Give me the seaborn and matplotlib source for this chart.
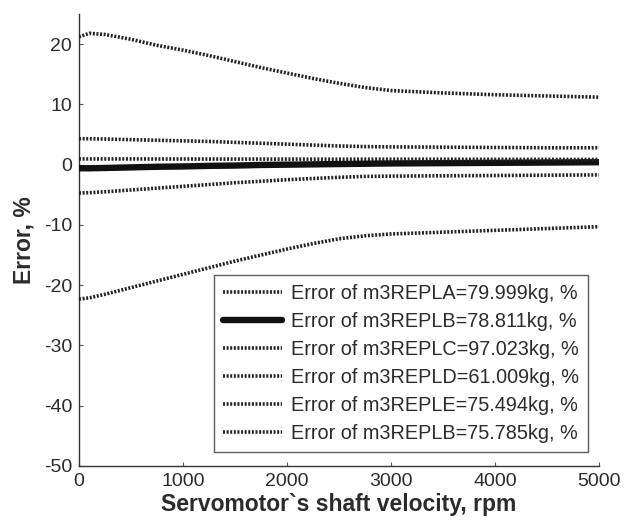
import matplotlib
matplotlib.use("Agg")
import matplotlib.pyplot as plt
import seaborn as sns
import pandas as pd

rpm = [0, 100, 250, 500, 750, 1000, 1250, 1500, 1750, 2000, 2250, 2500, 2750, 3000, 3500, 4000, 4500, 5000]

err_a = [21.2, 21.8, 21.6, 20.8, 19.8, 19.0, 18.1, 17.1, 16.1, 15.2, 14.3, 13.5, 12.8, 12.3, 11.9, 11.6, 11.4, 11.2]
err_b = [-0.6, -0.6, -0.55, -0.45, -0.35, -0.3, -0.2, -0.15, -0.05, 0.0, 0.05, 0.1, 0.15, 0.2, 0.25, 0.3, 0.35, 0.4]
err_c = [4.3, 4.3, 4.25, 4.15, 4.05, 3.95, 3.85, 3.7, 3.55, 3.4, 3.25, 3.1, 3.0, 2.95, 2.9, 2.85, 2.8, 2.8]
err_d = [-22.3, -22.1, -21.5, -20.4, -19.3, -18.2, -17.1, -16.0, -15.0, -14.0, -13.1, -12.3, -11.8, -11.5, -11.2, -10.9, -10.6, -10.3]
err_e = [0.95, 0.95, 0.95, 0.95, 0.94, 0.94, 0.93, 0.93, 0.92, 0.92, 0.91, 0.9, 0.9, 0.9, 0.89, 0.88, 0.87, 0.86]
err_f = [-4.7, -4.65, -4.5, -4.2, -3.9, -3.6, -3.3, -3.0, -2.75, -2.5, -2.3, -2.1, -1.95, -1.9, -1.85, -1.8, -1.75, -1.7]

labels = [
    "Error of m3REPLA=79.999kg, %",
    "Error of m3REPLB=78.811kg, %",
    "Error of m3REPLC=97.023kg, %",
    "Error of m3REPLD=61.009kg, %",
    "Error of m3REPLE=75.494kg, %",
    "Error of m3REPLB=75.785kg, %",
]
series = [err_a, err_b, err_c, err_d, err_e, err_f]

x_ticks = [0, 1000, 2000, 3000, 4000, 5000]
y_ticks = [-50, -40, -30, -20, -10, 0, 10, 20]

sns.set_style("ticks")
plt.rcParams["font.family"] = ["Liberation Sans", "DejaVu Sans"]
plt.rcParams["axes.unicode_minus"] = False
txt = "#2b2b2b"

fig = plt.figure(figsize=(6.3, 5.26), dpi=100)
ax = fig.add_axes([0.1254, 0.1141, 0.8254, 0.8593])

for i, (lab, vals) in enumerate(zip(labels, series)):
    df = pd.DataFrame({"rpm": rpm, "err": vals})
    if i == 1:
        sns.lineplot(data=df, x="rpm", y="err", ax=ax, color="#111111",
                     linewidth=4.6, label=lab, zorder=3)
    else:
        sns.lineplot(data=df, x="rpm", y="err", ax=ax, color="#222222",
                     linewidth=2.6, linestyle=(0, (0.55, 0.45)), label=lab, zorder=4)

ax.set_xlim(0, 5000)
ax.set_ylim(-50, 25)
ax.set_xticks(x_ticks)
ax.set_yticks(y_ticks)
ax.tick_params(direction="in", length=3, width=0.8, colors="#555555",
               labelsize=14, labelcolor=txt, pad=5)
for s in ["top", "right"]:
    ax.spines[s].set_visible(False)
for s in ["left", "bottom"]:
    ax.spines[s].set_color("#333333")
    ax.spines[s].set_linewidth(1.0)

ax.set_xlabel("Servomotor`s shaft velocity, rpm", fontsize=16.5, fontweight="bold", color=txt, labelpad=2)
ax.set_ylabel("Error, %", fontsize=16.5, fontweight="bold", color=txt, labelpad=6)

leg = ax.legend(loc="lower right", bbox_to_anchor=(0.979, 0.031), borderaxespad=0,
                fontsize=14.3, frameon=True, fancybox=False, edgecolor="#333333",
                handlelength=3.0, handletextpad=0.45, labelspacing=0.45,
                borderpad=0.45)
leg.get_frame().set_linewidth(1.0)
for t in leg.get_texts():
    t.set_color(txt)

fig.savefig("out.png", dpi=100)
